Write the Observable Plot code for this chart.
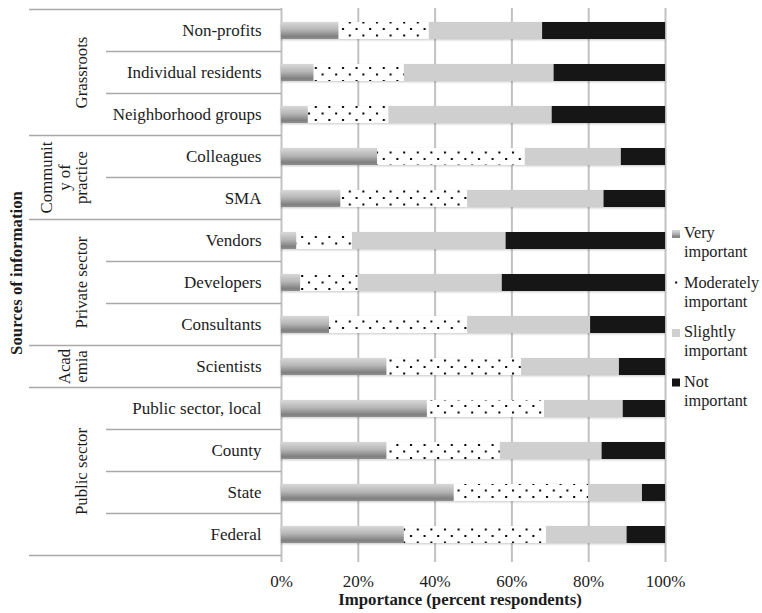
<!DOCTYPE html>
<html>
<head>
<meta charset="utf-8">
<script src="https://cdn.jsdelivr.net/npm/d3@7"></script>
<script src="https://cdn.jsdelivr.net/npm/@observablehq/plot@0.6"></script>
<style>
  body { margin: 0; background: #fff; }
  #chart svg, #chart svg text { font-family: "Liberation Serif", "Times New Roman", serif !important; }
</style>
</head>
<body>
<div id="chart"></div>
<script>
// Sources of information, top to bottom, and the group each belongs to
const sources = [
  "Non-profits", "Individual residents", "Neighborhood groups",
  "Colleagues", "SMA",
  "Vendors", "Developers", "Consultants",
  "Scientists",
  "Public sector, local", "County", "State", "Federal"
];
const sourceGroups = [
  "Grassroots", "Grassroots", "Grassroots",
  "Community of practice", "Community of practice",
  "Private sector", "Private sector", "Private sector",
  "Academia",
  "Public sector", "Public sector", "Public sector", "Public sector"
];
const groupNames = ["Grassroots", "Community of practice", "Private sector", "Academia", "Public sector"];
const groupLabelLines = [["Grassroots"], ["Communit", "y of", "practice"], ["Private sector"], ["Acad", "emia"], ["Public sector"]];

// Importance levels (stack order, left to right)
const levels = ["Very important", "Moderately important", "Slightly important", "Not important"];
const legendLines = [["Very", "important"], ["Moderately", "important"], ["Slightly", "important"], ["Not", "important"]];

// Percent of respondents per source, one array per importance level
const veryImportant       = [15,   8.5,  7,    25,   15.5, 4,    5,    12.5, 27.5, 38,   27.5, 45, 32];
const moderatelyImportant = [23.5, 23.5, 21,   38.5, 33,   14.5, 15,   36,   35,   30.5, 29.5, 35, 37];
const slightlyImportant   = [29.5, 39,   42.5, 25,   35.5, 40,   37.5, 32,   25.5, 20.5, 26.5, 14, 21];
const notImportant        = [32,   29,   29.5, 11.5, 16,   41.5, 42.5, 19.5, 12,   11,   16.5, 6,  10];

const xTicks = [0, 20, 40, 60, 80, 100];

// Long-format rows for the stacked bars
const seriesByLevel = [veryImportant, moderatelyImportant, slightlyImportant, notImportant];
const rows = sources.flatMap((source, i) =>
  levels.map((level, k) => ({source, level, value: seriesByLevel[k][i]}))
);

// Fills: gradient, dotted pattern, light grey, black
const paint = {
  "Very important": "url(#fill-very)",
  "Moderately important": "url(#fill-moderate)",
  "Slightly important": "#cfcfcf",
  "Not important": "#141414"
};

const textColor = "#1c1c1c";
const gridColor = "#c2c2c2";

const chart = Plot.plot({
  width: 762,
  height: 613,
  marginLeft: 281,
  marginRight: 97,
  marginTop: 8,
  marginBottom: 57,
  style: {fontFamily: "Liberation Serif, Times New Roman, serif", fontSize: "17px", color: textColor, background: "#fff"},
  x: {domain: [0, 100], label: null},
  y: {domain: sources, paddingInner: 0.6, paddingOuter: 0.3, label: null},
  color: {type: "identity"},
  marks: [
    Plot.gridX(xTicks, {stroke: gridColor, strokeOpacity: 1, strokeWidth: 2}),
    Plot.axisX(xTicks, {tickSize: 6, tickPadding: 12, stroke: gridColor, strokeWidth: 2, fill: textColor, tickFormat: d => d + "%", label: null}),
    Plot.axisY({tickSize: 0, tickPadding: 20, fill: textColor, label: null}),
    Plot.barX(rows, Plot.stackX({y: "source", x: "value", fill: d => paint[d.level]}))
  ]
});

document.getElementById("chart").appendChild(chart);

const svg = d3.select(chart);
const x = chart.scale("x");
const y = chart.scale("y");
const x0 = x.apply(0);

// Gradient, dot pattern and soft bar shadow
const defs = svg.insert("defs", ":first-child");
const grad = defs.append("linearGradient").attr("id", "fill-very")
  .attr("x1", 0).attr("y1", 0).attr("x2", 0).attr("y2", 1);
[[0, "#d8d8d8"], [0.45, "#b6b6b6"], [0.85, "#808080"], [1, "#909090"]]
  .forEach(([o, c]) => grad.append("stop").attr("offset", o).attr("stop-color", c));
const pat = defs.append("pattern").attr("id", "fill-moderate")
  .attr("patternUnits", "userSpaceOnUse").attr("width", 13.6).attr("height", 13);
pat.append("rect").attr("width", 13.6).attr("height", 13).attr("fill", "#fff");
pat.append("rect").attr("x", 2).attr("y", 2).attr("width", 2).attr("height", 2).attr("fill", "#000");
pat.append("rect").attr("x", 8.8).attr("y", 8.5).attr("width", 2).attr("height", 2).attr("fill", "#000");
const shadow = defs.append("filter").attr("id", "bar-shadow")
  .attr("x", "-5%").attr("y", "-30%").attr("width", "110%").attr("height", "160%");
shadow.append("feDropShadow").attr("dx", 0).attr("dy", 1).attr("stdDeviation", 0.8)
  .attr("flood-color", "#000").attr("flood-opacity", 0.22);
svg.selectAll("g[aria-label='bar']").attr("filter", "url(#bar-shadow)");

// Row and group separators in the label column
const step = y.step;
const gap = (step - y.bandwidth) / 2;
const sep = svg.append("g").attr("stroke", "#a9a9a9").attr("stroke-width", 1.5);
sources.forEach((s, i) => {
  const top = y.apply(s) - gap;
  const startsGroup = i === 0 || sourceGroups[i] !== sourceGroups[i - 1];
  sep.append("line").attr("x1", startsGroup ? 29 : 106).attr("x2", x0).attr("y1", top).attr("y2", top);
});
const bottom = y.apply(sources[sources.length - 1]) - gap + step;
sep.append("line").attr("x1", 29).attr("x2", x0).attr("y1", bottom).attr("y2", bottom);

// Rotated group labels
const lineGap = 17.5;
groupNames.forEach((g, gi) => {
  const members = sources.filter((s, i) => sourceGroups[i] === g);
  const cy = d3.mean(members, s => y.apply(s) + y.bandwidth / 2);
  const lines = groupLabelLines[gi];
  lines.forEach((line, li) => {
    const bx = 87 - (lines.length - 1 - li) * lineGap;
    svg.append("text")
      .attr("transform", `translate(${bx},${cy}) rotate(-90)`)
      .attr("text-anchor", "middle")
      .attr("fill", textColor)
      .style("font-size", "16.8px")
      .text(line);
  });
});

// Axis titles
svg.append("text")
  .attr("transform", `translate(22,273) rotate(-90)`)
  .attr("text-anchor", "middle")
  .attr("font-weight", "bold")
  .attr("fill", textColor)
  .style("font-size", "16.8px")
  .text("Sources of information");
svg.append("text")
  .attr("x", 460).attr("y", 605)
  .attr("text-anchor", "middle")
  .attr("font-weight", "bold")
  .attr("fill", textColor)
  .style("font-size", "16.8px")
  .text("Importance (percent respondents)");

// Legend
const legend = svg.append("g").attr("text-anchor", "start");
levels.forEach((level, i) => {
  const base = 238 + i * 49.5;
  legend.append("rect")
    .attr("x", 672).attr("y", base - 8).attr("width", 8).attr("height", 8)
    .attr("fill", paint[level]);
  legendLines[i].forEach((line, li) => {
    legend.append("text")
      .attr("x", 684).attr("y", base + li * 19)
      .attr("text-anchor", "start")
      .attr("fill", textColor)
      .style("font-size", "16.3px")
      .text(line);
  });
});
</script>
</body>
</html>
